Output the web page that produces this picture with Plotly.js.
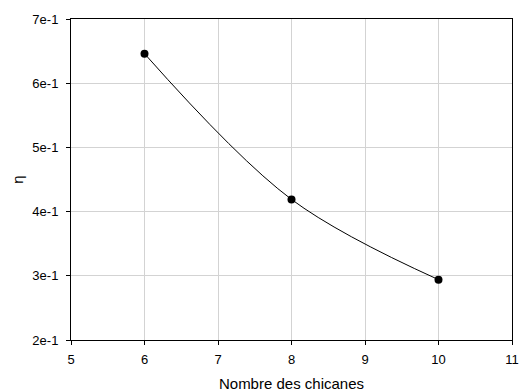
<!DOCTYPE html>
<html>
<head>
<meta charset="utf-8">
<script src="https://cdn.plot.ly/plotly-3.0.1.min.js"></script>
<style>html,body{margin:0;padding:0;background:#fff;}#chart{width:527px;height:392px;}</style>
</head>
<body>
<div id="chart"></div>
<script>
const chicanes = [6, 8, 10];
const eta = [0.646, 0.419, 0.294];
const xTickVals = [5, 6, 7, 8, 9, 10, 11];
const yTickVals = [0.2, 0.3, 0.4, 0.5, 0.6, 0.7];
const yTickText = ["2e-1", "3e-1", "4e-1", "5e-1", "6e-1", "7e-1"];
const yTitle = "η";

const FONT = "Liberation Sans, Arial, sans-serif";
const trace = {
  x: chicanes, y: eta, type: "scatter", mode: "lines+markers",
  line: {shape: "spline", smoothing: 1, color: "#000", width: 1},
  marker: {color: "#000", size: 8}
};
const axisCommon = {
  showline: true, linecolor: "#000", linewidth: 1, mirror: true,
  ticks: "outside", ticklen: 4, tickcolor: "#000",
  showgrid: true, gridcolor: "#d3d3d3", gridwidth: 1, zeroline: false,
  tickfont: {family: FONT, size: 13, color: "#000"}
};
const layout = {
  width: 527, height: 392,
  margin: {l: 71, r: 15, t: 19, b: 52},
  paper_bgcolor: "#fff", plot_bgcolor: "#fff",
  showlegend: false,
  xaxis: Object.assign({}, axisCommon, {
    range: [5, 11], tickvals: xTickVals, ticklabelstandoff: 3,
    title: {text: "Nombre des chicanes", standoff: 17, font: {family: FONT, size: 15, color: "#000"}}
  }),
  yaxis: Object.assign({}, axisCommon, {
    range: [0.2, 0.7], tickvals: yTickVals, ticktext: yTickText, ticklabelstandoff: 5
  }),
  annotations: [{
    text: yTitle, xref: "paper", yref: "paper", x: -0.122, y: 0.5,
    xanchor: "center", yanchor: "middle", textangle: -90, showarrow: false,
    font: {family: FONT, size: 15, color: "#000"}
  }]
};
Plotly.newPlot("chart", [trace], layout, {displayModeBar: false, staticPlot: true});
</script>
</body>
</html>
